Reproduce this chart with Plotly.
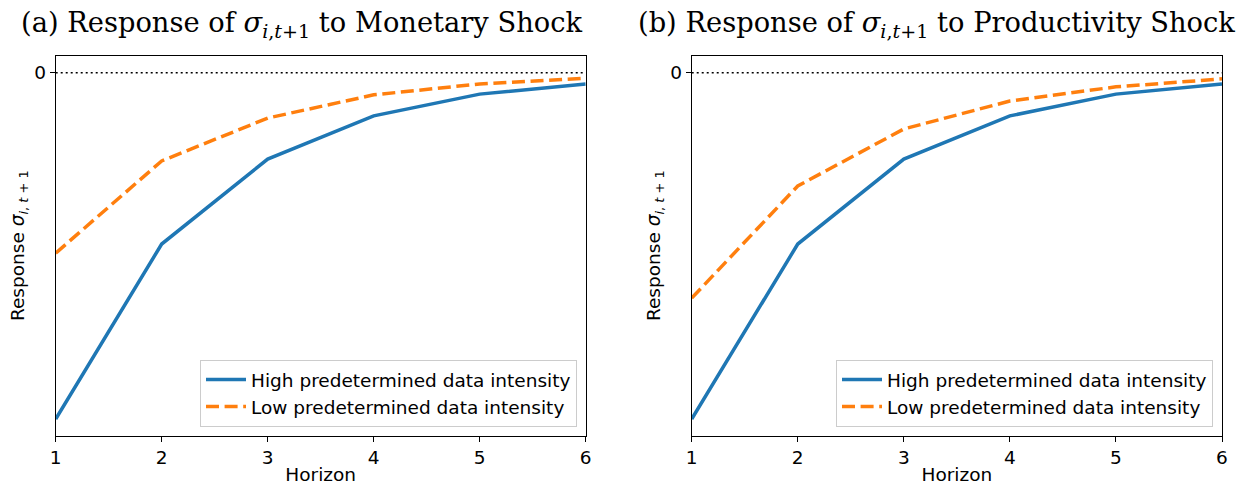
import plotly.graph_objects as go

horizon = [1, 2, 3, 4, 5, 6]
mon_high = [-0.954, -0.472, -0.238, -0.119, -0.059, -0.031]
mon_low = [-0.497, -0.243, -0.125, -0.061, -0.031, -0.015]
prod_high = [-0.954, -0.472, -0.238, -0.119, -0.059, -0.031]
prod_low = [-0.621, -0.312, -0.155, -0.078, -0.039, -0.017]

series_names = ["High predetermined data intensity", "Low predetermined data intensity"]
titles = ["(a) Response of <i>σ</i><sub><i>i</i>,<i>t</i>+1</sub> to Monetary Shock",
          "(b) Response of <i>σ</i><sub><i>i</i>,<i>t</i>+1</sub> to Productivity Shock"]
ylabel = "Response <i>σ</i><sub><i>i</i>, <i>t</i> + 1</sub>"

BLUE = "#1f77b4"
ORANGE = "#ff7f0e"
W, H = 1245, 485
SANS = "DejaVu Sans"
FS = 18.5

fig = go.Figure()

panels = [(mon_high, mon_low, "x", "y", "legend"), (prod_high, prod_low, "x2", "y2", "legend2")]
for hi, lo, xa, ya, lg in panels:
    fig.add_trace(go.Scatter(x=horizon, y=hi, mode="lines", name=series_names[0],
                             line=dict(color=BLUE, width=3.5), xaxis=xa, yaxis=ya, legend=lg))
    fig.add_trace(go.Scatter(x=horizon, y=lo, mode="lines", name=series_names[1],
                             line=dict(color=ORANGE, width=3.5, dash="13px,5.6px"), xaxis=xa, yaxis=ya, legend=lg))

xdoms = [[55.7 / W, 585.7 / W], [691.7 / W, 1222 / W]]
ydom = [1 - 435.7 / H, 1 - 55.7 / H]
yrange = [-1.0, 17 / 363]

axis_common = dict(showline=True, mirror=True, linecolor="black", linewidth=1,
                   ticks="outside", ticklen=5, tickwidth=1, tickcolor="black",
                   showgrid=False, zeroline=False, automargin=False,
                   tickfont=dict(family=SANS, size=FS, color="black"))

for i, sfx in enumerate(["", "2"]):
    fig.layout["xaxis" + sfx] = dict(axis_common, domain=xdoms[i], range=[1, 6],
                                     tickvals=horizon, anchor="y" + sfx,
                                     title=dict(text="Horizon", font=dict(family=SANS, size=FS, color="black"), standoff=3))
    fig.layout["yaxis" + sfx] = dict(axis_common, domain=ydom, range=yrange,
                                     tickvals=[0], ticktext=["0"], anchor="x" + sfx,
                                     title=dict(text=ylabel, font=dict(family=SANS, size=FS, color="black"), standoff=4))
    fig.add_shape(type="line", xref="x" + sfx + " domain", yref="y" + sfx,
                  x0=0, x1=1, y0=0, y1=0, line=dict(color="black", width=1.5, dash="2px,3px"))

legend_common = dict(xanchor="right", yanchor="bottom", bgcolor="rgba(255,255,255,0.8)",
                     bordercolor="#cccccc", borderwidth=1,
                     font=dict(family=SANS, size=FS, color="black"),
                     tracegroupgap=0, itemwidth=40)
fig.update_layout(
    legend=dict(legend_common, x=577 / W, y=1 - 427 / H),
    legend2=dict(legend_common, x=1213 / W, y=1 - 427 / H),
)

title_x = [301, 936]
for i, t in enumerate(titles):
    fig.add_annotation(text=t, xref="paper", yref="paper", x=title_x[i] / W, y=1 - 25 / H,
                       xanchor="center", yanchor="middle", showarrow=False,
                       font=dict(family="DejaVu Serif", size=27.3, color="black"))

fig.update_layout(width=W, height=H, margin=dict(l=0, r=0, t=0, b=0),
                  paper_bgcolor="white", plot_bgcolor="white", showlegend=True)

fig.write_html("out.html")
